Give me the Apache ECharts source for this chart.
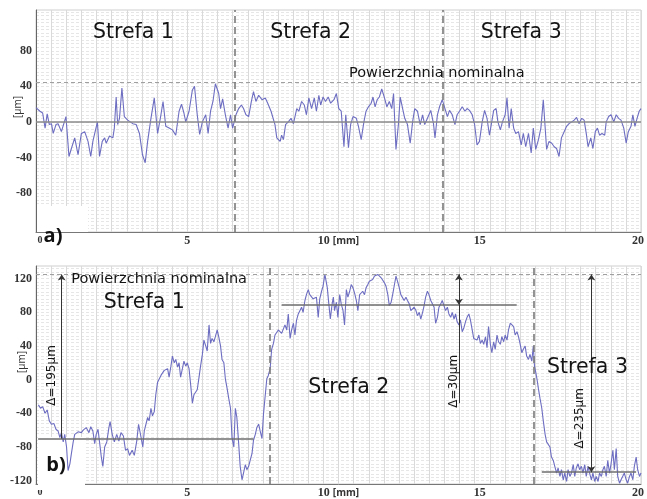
<!DOCTYPE html>
<html>
<head>
<meta charset="utf-8">
<script src="https://cdn.jsdelivr.net/npm/echarts@6/dist/echarts.min.js"></script>
<style>
html,body{margin:0;padding:0;background:#fff;}
#c{width:647px;height:499px;}
</style>
</head>
<body>
<div id="c"></div>
<script>
// ---------- DATA ----------
// Profile a) : position [mm], height [µm]
const profileA_mm = [
0,0.02,0.13,0.22,0.30,0.37,0.44,0.51,0.57,0.66,0.73,0.84,0.90,0.99,1.09,1.17,1.28,1.39,1.50,1.61,1.72,1.81,1.88,2.03,2.10,2.19,2.27,2.32,2.43,2.54,2.59,2.65,2.70,2.76,2.84,2.92,3.03,3.20,3.31,3.42,3.52,3.61,3.69,3.80,3.91,4.02,4.13,4.20,4.29,4.40,4.51,4.62,4.73,4.81,4.89,4.95,5.06,5.17,5.24,5.33,5.41,5.50,5.61,5.69,5.77,5.85,5.93,6.04,6.10,6.17,6.26,6.35,6.43,6.50,
6.61,6.70,6.79,6.86,6.94,7.03,7.12,7.19,7.27,7.36,7.47,7.58,7.66,7.77,7.90,7.96,8.07,8.12,8.18,8.25,8.34,8.43,8.51,8.62,8.69,8.78,8.87,8.94,9.02,9.11,9.20,9.27,9.35,9.41,9.49,9.57,9.66,9.74,9.85,9.93,10.01,10.09,10.18,10.24,10.33,10.40,10.48,10.59,10.66,10.75,10.84,10.91,10.99,11.08,11.14,11.21,11.28,11.35,11.43,11.52,11.60,11.68,11.76,11.82,11.90,11.98,12.04,12.12,12.19,12.28,12.37,12.45,12.52,12.61,12.70,12.78,12.85,12.94,13.05,13.14,
13.19,13.27,13.34,13.43,13.52,13.60,13.67,13.76,13.85,13.92,14.00,14.09,14.18,14.25,14.33,14.42,14.50,14.58,14.66,14.75,14.83,14.91,14.99,15.05,15.13,15.21,15.27,15.35,15.42,15.51,15.57,15.64,15.71,15.79,15.86,15.95,16.04,16.11,16.19,16.28,16.37,16.44,16.52,16.61,16.69,16.77,16.83,16.88,16.96,17.05,17.13,17.21,17.29,17.37,17.46,17.54,17.62,17.71,17.79,17.87,17.95,18.04,18.12,18.19,18.25,18.34,18.41,18.49,18.56,18.63,18.71,18.80,18.85,18.93,19.01,19.10,19.18,19.26,19.34,19.43,19.51,19.58,19.67,19.73,19.80,19.87,19.94,20.00];
const profileA_um = [
16,15,12,10,-7,9,-3,-2,-13,-3,-2,-11,-9,6,-39,-30,-18,-37,-13,-11,-22,-39,-22,0,-39,-22,-18,-24,-16,-18,-7,28,-3,4,38,6,2,-2,-3,-13,-37,-46,-22,4,27,-13,8,23,-5,-7,-9,-15,12,20,10,0,12,36,40,8,-14,0,8,-13,12,23,43,32,15,26,8,-7,8,-7,
8,15,19,15,8,6,23,34,23,30,25,27,21,12,-3,-18,-22,-15,-20,-3,0,4,-2,15,12,23,19,8,27,15,27,12,30,19,28,23,28,21,25,32,15,12,-28,8,-29,-3,6,4,-5,-20,0,12,17,21,28,17,25,28,37,27,17,23,15,32,-31,-3,28,15,4,-3,-24,0,15,12,-3,8,-3,4,13,-2,
-18,8,17,25,15,6,13,8,-3,8,12,17,12,15,13,8,-3,-26,-22,0,13,4,-15,-3,13,15,0,-9,0,8,27,-7,15,-7,-13,-11,-26,-13,-28,-13,-35,-7,-31,-20,-7,25,23,-31,-22,-24,-28,-30,-39,-18,-11,-5,-2,0,2,5,-2,4,2,-13,-28,-18,-30,-11,-7,-15,-13,-15,0,6,8,0,8,4,2,-7,-24,-11,-5,8,-5,4,12,15];

// Profile b)
const profileB_mm = [
0.08,0.15,0.22,0.30,0.37,0.44,0.51,0.59,0.66,0.73,0.79,0.84,0.90,0.95,1.01,1.06,1.12,1.17,1.23,1.28,1.34,1.39,1.50,1.56,1.66,1.75,1.81,1.88,1.94,1.99,2.05,2.10,2.16,2.21,2.27,2.34,2.41,2.45,2.52,2.59,2.67,2.74,2.81,2.89,2.96,3.03,3.09,3.18,3.25,3.33,3.39,3.47,3.53,3.58,3.63,3.69,3.74,3.80,3.85,3.91,3.96,4.02,4.07,4.13,4.18,4.24,4.29,4.35,4.40,4.46,4.51,4.57,4.62,4.68,4.73,4.78,4.84,4.89,4.95,5.00,5.06,5.11,5.17,5.22,5.28,5.33,5.39,5.44,5.50,5.55,5.61,5.66,5.72,5.77,5.82,5.88,5.93,5.99,6.04,6.10,6.15,6.21,6.26,6.32,6.37,
6.43,6.48,6.54,6.59,6.64,6.70,6.75,6.81,6.86,6.92,6.97,7.03,7.08,7.14,7.19,7.25,7.30,7.36,7.41,7.47,7.52,7.58,7.63,7.68,7.74,7.79,7.85,7.90,7.96,8.01,8.07,8.12,8.18,8.23,8.29,8.34,8.40,8.45,8.51,8.56,8.61,8.67,8.72,8.78,8.83,8.89,8.94,9.00,9.05,9.11,9.16,9.22,9.27,9.33,9.38,9.44,9.49,9.55,9.60,9.63,9.68,9.73,9.79,9.83,9.87,9.93,9.98,10.04,10.09,10.15,10.20,10.26,10.31,10.37,10.42,10.48,10.53,10.59,10.64,10.70,10.75,10.80,10.86,10.91,10.97,11.02,11.08,11.13,11.19,11.24,11.30,11.35,11.41,11.46,11.52,11.57,11.63,11.68,11.74,11.79,11.85,11.90,11.95,12.01,12.06,12.12,12.17,12.23,12.28,12.34,12.39,12.45,12.50,12.56,12.61,12.67,12.72,12.78,12.83,12.88,12.94,12.99,13.05,
13.16,13.21,13.27,13.32,13.38,13.43,13.49,13.54,13.60,13.65,13.71,13.76,13.82,13.87,13.92,13.98,14.03,14.09,14.14,14.20,14.25,14.31,14.36,14.42,14.47,14.53,14.58,14.64,14.69,14.75,14.80,14.86,14.91,14.96,15.02,15.07,15.13,15.18,15.24,15.29,15.35,15.40,15.46,15.51,15.57,15.62,15.68,15.73,15.79,15.84,15.90,15.95,16.00,16.06,16.11,16.17,16.22,16.28,16.33,16.39,16.44,16.48,16.52,16.56,16.61,16.66,16.72,16.77,16.83,16.88,16.93,16.99,17.04,17.10,17.15,17.21,17.26,17.32,17.37,17.43,17.48,17.54,17.59,17.65,17.70,17.76,17.81,17.86,17.92,17.97,18.03,18.08,18.14,18.19,18.25,18.30,18.36,18.41,18.47,18.52,18.58,18.63,18.69,18.74,18.79,18.85,18.90,18.96,19.01,19.07,19.12,19.18,19.23,19.29,19.34,19.40,19.45,19.51,19.56,19.62,19.67,19.73,19.78,19.84,19.89,19.95,20.00];
const profileB_um = [
-30,-34,-32,-40,-36,-49,-53,-52,-59,-61,-69,-63,-74,-65,-80,-108,-100,-88,-74,-65,-63,-62,-63,-60,-57,-63,-56,-61,-76,-65,-59,-74,-92,-103,-80,-74,-57,-50,-65,-74,-65,-73,-63,-67,-84,-82,-90,-84,-90,-73,-53,-68,-80,-61,-59,-45,-49,-34,-43,-38,-18,-3,-1,5,7,11,9,13,3,16,28,20,24,15,20,3,13,22,16,20,13,-5,-28,-18,-16,-12,3,16,30,47,40,34,65,43,49,45,51,59,51,40,24,20,1,-11,-22,
-34,-69,-80,-34,-45,-76,-103,-119,-111,-101,-107,-103,-96,-88,-72,-65,-57,-53,-61,-70,-41,-18,1,5,13,36,43,53,55,59,61,55,57,65,59,78,49,59,67,53,70,78,76,86,80,94,101,107,101,103,96,94,98,74,96,105,111,125,123,109,90,72,90,98,82,92,74,101,90,82,65,107,98,105,113,109,103,94,82,101,103,105,101,109,113,117,115,119,123,121,125,124,121,119,115,111,101,88,92,101,113,123,117,109,101,103,94,98,94,90,82,84,86,82,76,80,72,80,88,98,105,101,94,
86,67,74,86,90,94,92,82,86,78,74,80,72,78,69,65,71,57,61,69,74,78,71,59,49,51,47,53,43,47,42,51,38,63,42,32,45,36,53,45,42,51,45,53,47,59,67,69,63,53,57,51,43,32,36,40,28,24,30,22,40,16,9,1,-11,-22,-34,-49,-65,-74,-76,-80,-92,-96,-103,-111,-105,-115,-107,-119,-111,-121,-107,-115,-111,-101,-115,-105,-100,-107,-103,-111,-101,-115,-103,-111,-119,-111,-121,-115,-121,-111,-115,-107,-103,-115,-96,-111,-100,-84,-107,-82,-115,-123,-119,-121,-111,-119,-123,-115,-111,-119,-103,-92,-107,-115,-111];

// zone borders [mm] and nominal surface [µm]
const zoneBordersA = [6.57, 13.43];
const zoneBordersB = [7.74, 16.44];
const nominalA = 45;
const nominalB = 125;
// mean levels per zone in b)
const levelB_um = [-70, 89, -110];
const levelB_from = [0.07, 8.12, 16.72];
const levelB_to = [7.19, 15.89, 19.84];
// delta dimension lines in b)
const deltaB_mm = [0.85, 13.98, 18.36];
const deltaB_low = [-70, 89, -110];
const deltaB_labels = ['Δ=195µm', 'Δ=30µm', 'Δ=235µm'];
const deltaB_tail = -28; // extension of the Δ=30 line
// tick labels
const yTicksA = [80, 40, 0, -40, -80];
const yTicksB = [120, 80, 40, 0, -40, -80, -120];
const zoneNames = ['Strefa 1', 'Strefa 2', 'Strefa 3'];
const nominalName = 'Powierzchnia nominalna';

// ---------- CHART ----------
const pairs = (xs, ys) => xs.map((x, i) => [x, ys[i]]);
const tickFont = {fontFamily: 'Liberation Serif', fontWeight: 'bold', fontSize: 12, color: '#333'};
const lineColor = '#6d6dc2';

function xAxisFor(gi, margin) {
  return {
    type: 'value', gridIndex: gi, min: 0, max: 20, interval: 0.5,
    axisLine: {show: true, onZero: false, lineStyle: {color: '#777', width: 1}},
    axisTick: {show: false},
    splitLine: {show: true, lineStyle: {color: '#dadada', width: 1}},
    axisLabel: {
      margin: margin, ...tickFont,
      formatter: function (v) {
        if (v === 0) return '{z|0}';
        if (v === 5) return '{n|5}';
        if (v === 10) return '{n|10} {u|[mm]}';
        if (v === 15) return '{f|15}';
        if (v === 20) return '{t|20}';
        return '';
      },
      rich: {
        n: {...tickFont},
        z: {...tickFont, fontSize: 10, padding: [0, 0, 0, 8]},
        u: {fontFamily: 'Open Sans', fontSize: 10, color: '#333'},
        f: {...tickFont, padding: [0, 20, 0, 0]},
        t: {...tickFont, padding: [0, 6, 0, 0]}
      }
    }
  };
}
function yAxisFor(gi, min, max, ticks) {
  return {
    type: 'value', gridIndex: gi, min: min, max: max, interval: 4,
    axisLine: {show: true, onZero: false, lineStyle: {color: '#666', width: 1}},
    axisTick: {show: false},
    splitLine: {show: true, lineStyle: {color: '#e6e6e6', width: 1, type: [3, 2]}},
    axisLabel: {
      margin: 4, ...tickFont,
      formatter: function (v) { return ticks.indexOf(Math.round(v)) >= 0 ? String(Math.round(v)) : ''; }
    }
  };
}
const textLabel = (size, rot) => ({
  show: true, position: 'inside', formatter: '{b}', rotate: rot || 0,
  fontFamily: 'DejaVu Sans', fontSize: size, color: '#141414', opacity: 1
});
const annot = (gi, items, size, rot) => ({
  type: 'scatter', xAxisIndex: gi, yAxisIndex: gi, symbolSize: 0, silent: true, z: 5,
  itemStyle: {color: '#141414', opacity: 1}, label: textLabel(size, rot),
  data: items
});

const sepStyle = {color: '#7a7a7a', width: 1.6, type: [7, 4]};
const nomStyle = {color: '#a0a0a0', width: 1, type: [4, 3]};

const levelLines = levelB_um.map((y, i) => [
  {coord: [levelB_from[i], y], symbol: 'none'},
  {coord: [levelB_to[i], y], symbol: 'none'}
]);
const arrowStyle = {color: '#333', width: 1, type: 'solid'};
const deltaLines = [
  [{coord: [deltaB_mm[0], deltaB_low[0]], symbol: 'none'}, {coord: [deltaB_mm[0], nominalB], symbol: 'arrow'}],
  [{coord: [deltaB_mm[1], deltaB_low[1]], symbol: 'arrow'}, {coord: [deltaB_mm[1], nominalB], symbol: 'arrow'}],
  [{coord: [deltaB_mm[1], deltaB_tail], symbol: 'none'}, {coord: [deltaB_mm[1], deltaB_low[1]], symbol: 'none'}],
  [{coord: [deltaB_mm[2], deltaB_low[2]], symbol: 'arrow'}, {coord: [deltaB_mm[2], nominalB], symbol: 'arrow'}]
].map(p => { p[0].lineStyle = arrowStyle; return p; });

const option = {
  animation: false,
  backgroundColor: '#fff',
  grid: [
    {left: 36, right: 2, top: 10, height: 222, show: true, borderColor: '#cfcfcf', borderWidth: 1},
    {left: 36, right: 2, top: 266, height: 224, show: true, borderColor: '#cfcfcf', borderWidth: 1}
  ],
  xAxis: [xAxisFor(0, 3), xAxisFor(1, 3)],
  yAxis: [yAxisFor(0, -124, 126, yTicksA), yAxisFor(1, -124, 135, yTicksB)],
  series: [
    {
      type: 'line', xAxisIndex: 0, yAxisIndex: 0, showSymbol: false, symbol: 'none',
      lineStyle: {color: lineColor, width: 1.1}, data: pairs(profileA_mm, profileA_um),
      markLine: {
        silent: true, symbol: ['none', 'none'], label: {show: false},
        data: [
          {yAxis: 0, lineStyle: {color: '#8a8a8a', width: 1.5, type: 'solid'}},
          {yAxis: nominalA, lineStyle: nomStyle},
          {xAxis: zoneBordersA[0], lineStyle: sepStyle},
          {xAxis: zoneBordersA[1], lineStyle: sepStyle}
        ]
      }
    },
    {
      type: 'line', xAxisIndex: 1, yAxisIndex: 1, showSymbol: false, symbol: 'none',
      lineStyle: {color: lineColor, width: 1.1}, data: pairs(profileB_mm, profileB_um),
      markLine: {
        silent: true, symbol: ['none', 'none'], symbolSize: 6, label: {show: false},
        lineStyle: {color: '#6e6e6e', width: 1.5, type: 'solid'},
        data: [
          {yAxis: nominalB, lineStyle: nomStyle},
          {xAxis: zoneBordersB[0], lineStyle: sepStyle},
          {xAxis: zoneBordersB[1], lineStyle: sepStyle}
        ].concat(levelLines).concat(deltaLines)
      }
    },
    annot(0, [
      {name: zoneNames[0], value: [3.22, 100]},
      {name: zoneNames[1], value: [9.08, 100]},
      {name: zoneNames[2], value: [16.04, 100]}
    ], 20.5),
    annot(0, [{name: nominalName, value: [13.25, 55]}], 14.5),
    annot(1, [
      {name: zoneNames[0], value: [3.58, 92]},
      {name: zoneNames[1], value: [10.34, -10]},
      {name: zoneNames[2], value: [18.23, 14.5]}
    ], 20.5),
    annot(1, [{name: nominalName, value: [4.07, 119]}], 14.5),
    annot(1, [
      {name: deltaB_labels[0], value: [0.54, 5]},
      {name: deltaB_labels[1], value: [13.81, -2]},
      {name: deltaB_labels[2], value: [17.98, -46]}
    ], 12, 90)
  ],
  graphic: [
    {type: 'rect', z: 1, shape: {x: 37, y: 206, width: 51, height: 26}, style: {fill: '#fff'}},
    {type: 'rect', z: 1, shape: {x: 38, y: 437, width: 47, height: 53}, style: {fill: '#fff'}},
    {type: 'text', z: 20, x: 53, y: 236, style: {text: 'a)', font: 'bold 20px "Open Sans"', fill: '#111', textAlign: 'center', textVerticalAlign: 'middle'}},
    {type: 'text', z: 20, x: 56, y: 465, style: {text: 'b)', font: 'bold 20px "Open Sans"', fill: '#111', textAlign: 'center', textVerticalAlign: 'middle'}},
    {type: 'text', z: 20, x: 18, y: 107, rotation: Math.PI / 2, style: {text: '[µm]', font: '10px "Open Sans"', fill: '#333', textAlign: 'center', textVerticalAlign: 'middle'}},
    {type: 'text', z: 20, x: 22, y: 362, rotation: Math.PI / 2, style: {text: '[µm]', font: '10px "Open Sans"', fill: '#333', textAlign: 'center', textVerticalAlign: 'middle'}}
  ]
};
const chart = echarts.init(document.getElementById('c'), null, {renderer: 'canvas'});
chart.setOption(option);
</script>
</body>
</html>
